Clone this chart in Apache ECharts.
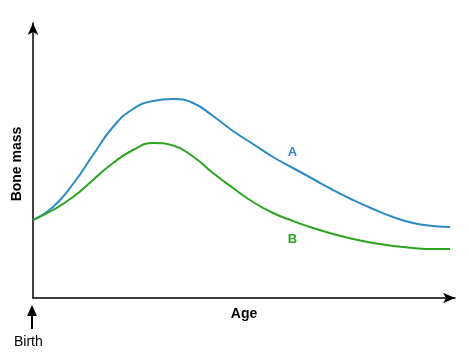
<!DOCTYPE html>
<html>
<head>
<meta charset="utf-8">
<script src="https://cdn.jsdelivr.net/npm/echarts@6/dist/echarts.min.js"></script>
<style>html,body{margin:0;padding:0;background:#fff}#c{width:469px;height:359px}</style>
</head>
<body>
<div id="c"></div>
<script>
// Values (age units, bone-mass units)
var ages  = [0, 20, 40, 60, 80, 100, 120, 140, 160, 180, 200, 220, 240, 260, 280, 300, 320, 340, 360, 380, 400, 417];
var boneA = [78, 91, 114, 143, 171, 189, 197, 199, 195, 182, 167, 154, 141, 130, 119, 108, 98, 89, 81, 75, 72, 71];
var boneB = [78, 88, 101, 118, 135, 148, 155, 152.5, 141.5, 125, 110, 96, 85, 77, 70, 64, 59, 55, 52, 50, 49, 49];
var labelA = {name: 'A', age: 259.5, bone: 145.5};
var labelB = {name: 'B', age: 259.5, bone: 58.5};
var xName = 'Age', yName = 'Bone mass', originLabel = 'Birth';

function pairs(xs, ys){ return xs.map(function(x,i){ return [x, ys[i]]; }); }

var blue = '#2b8bc5', green = '#2ba41f';
var font = 'Liberation Sans, Arial, Helvetica, sans-serif';
var chart = echarts.init(document.getElementById('c'));
chart.setOption({
  animation: false,
  grid: {left: 33, right: 14, top: 23, bottom: 61},
  xAxis: {
    type: 'value', min: 0, max: 422,
    name: xName, nameLocation: 'middle', nameGap: 9,
    nameTextStyle: {fontFamily: font, fontWeight: 'bold', fontSize: 14, color: '#000'},
    axisLine: {lineStyle: {color: '#000', width: 1.5}, symbol: ['none', 'arrow'], symbolSize: [8, 12]},
    axisTick: {show: false}, axisLabel: {show: false}, splitLine: {show: false}
  },
  yAxis: {
    type: 'value', min: 0, max: 275,
    name: yName, nameLocation: 'middle', nameGap: 9, nameRotate: 90,
    nameTextStyle: {fontFamily: font, fontWeight: 'bold', fontSize: 14, color: '#000', padding: [0, 7, 0, 0]},
    axisLine: {show: true, lineStyle: {color: '#000', width: 1.5}, symbol: ['none', 'arrow'], symbolSize: [8, 12]},
    axisTick: {show: false}, axisLabel: {show: false}, splitLine: {show: false}
  },
  series: [
    {type: 'line', data: pairs(ages, boneA), smooth: 0.5, showSymbol: false,
     lineStyle: {color: blue, width: 2}, itemStyle: {color: blue},
     markPoint: {symbol: 'circle', symbolSize: 0, data: [{coord: [labelA.age, labelA.bone], value: labelA.name}],
       label: {show: true, position: 'inside', formatter: labelA.name, color: blue, fontFamily: font, fontWeight: 'bold', fontSize: 13}}},
    {type: 'line', data: pairs(ages, boneB), smooth: 0.5, showSymbol: false,
     lineStyle: {color: green, width: 2}, itemStyle: {color: green},
     markPoint: {symbol: 'circle', symbolSize: 0, data: [{coord: [labelB.age, labelB.bone], value: labelB.name}],
       label: {show: true, position: 'inside', formatter: labelB.name, color: green, fontFamily: font, fontWeight: 'bold', fontSize: 13}}}
  ],
  graphic: [
    {type: 'line', shape: {x1: 32, y1: 329, x2: 32, y2: 314}, style: {stroke: '#000', lineWidth: 2}},
    {type: 'polygon', shape: {points: [[32, 305], [27, 316], [37, 316]]}, style: {fill: '#000'}},
    {type: 'text', left: 14, top: 335, style: {text: originLabel, fontFamily: font, fontSize: 14, fill: '#000'}}
  ]
});
</script>
</body>
</html>
